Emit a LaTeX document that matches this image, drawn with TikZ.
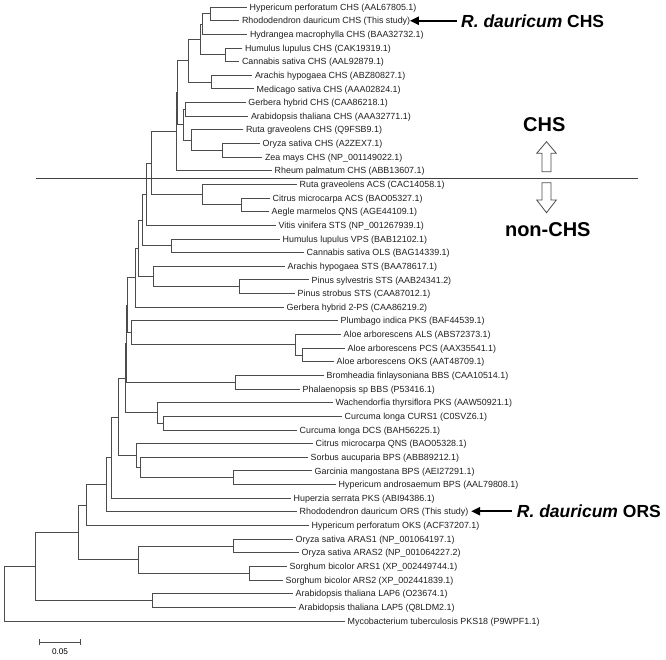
\documentclass[tikz,border=0pt]{standalone}
\usepackage{fontspec}
\setmainfont{Liberation Sans}
\usetikzlibrary{arrows.meta}
\begin{document}
\begin{tikzpicture}[x=1pt,y=-1pt,
  br/.style={draw=black!70, line width=0.85pt},
  leaf/.style={anchor=west, inner xsep=2.5pt, inner ysep=0pt, text height=6.3pt, text depth=0pt,
    font=\fontsize{8.9}{10}\selectfont, text=black!88},
  biglab/.style={anchor=base west, inner sep=0pt, font=\bfseries\fontsize{17.5}{20}\selectfont},
  cladelab/.style={inner sep=0pt, font=\bfseries\fontsize{20}{24}\selectfont},
  bigarr/.style={draw=black, line width=2.2pt, -{Triangle[length=9pt,width=8pt]}},
  hollow/.style={draw=black!70, line width=0.8pt, fill=white, line join=miter},
  divider/.style={draw=black!75, line width=0.9pt}]
\useasboundingbox (0,0) rectangle (666,659);

% leaves
\node[leaf] (l1)  at (247,7.0)    {Hypericum perforatum CHS (AAL67805.1)};
\node[leaf] (l2)  at (239.3,20.64) {Rhododendron dauricum CHS (This study)};
\node[leaf] (l3)  at (247.3,34.29) {Hydrangea macrophylla CHS (BAA32732.1)};
\node[leaf] (l4)  at (242.3,47.93) {Humulus lupulus CHS (CAK19319.1)};
\node[leaf] (l5)  at (239.3,61.58) {Cannabis sativa CHS (AAL92879.1)};
\node[leaf] (l6)  at (252.3,75.22) {Arachis hypogaea CHS (ABZ80827.1)};
\node[leaf] (l7)  at (254,88.86)   {Medicago sativa CHS (AAA02824.1)};
\node[leaf] (l8)  at (245.7,102.51) {Gerbera hybrid CHS (CAA86218.1)};
\node[leaf] (l9)  at (248.3,116.15) {Arabidopsis thaliana CHS (AAA32771.1)};
\node[leaf] (l10) at (243.3,129.80) {Ruta graveolens CHS (Q9FSB9.1)};
\node[leaf] (l11) at (260,143.44)   {Oryza sativa CHS (A2ZEX7.1)};
\node[leaf] (l12) at (262.3,157.08) {Zea mays CHS (NP\_001149022.1)};
\node[leaf] (l13) at (272,170.73)   {Rheum palmatum CHS (ABB13607.1)};
\node[leaf] (l14) at (297,184.37)   {Ruta graveolens ACS (CAC14058.1)};
\node[leaf] (l15) at (270,198.02)   {Citrus microcarpa ACS (BAO05327.1)};
\node[leaf] (l16) at (269,211.66)   {Aegle marmelos QNS (AGE44109.1)};
\node[leaf] (l17) at (276,225.30)   {Vitis vinifera STS (NP\_001267939.1)};
\node[leaf] (l18) at (280,238.95)   {Humulus lupulus VPS (BAB12102.1)};
\node[leaf] (l19) at (304,252.59)   {Cannabis sativa OLS (BAG14339.1)};
\node[leaf] (l20) at (285,266.24)   {Arachis hypogaea STS (BAA78617.1)};
\node[leaf] (l21) at (309,279.88)   {Pinus sylvestris STS (AAB24341.2)};
\node[leaf] (l22) at (295,293.52)   {Pinus strobus STS (CAA87012.1)};
\node[leaf] (l23) at (284,307.17)   {Gerbera hybrid 2-PS (CAA86219.2)};
\node[leaf] (l24) at (338,320.81)   {Plumbago indica PKS (BAF44539.1)};
\node[leaf] (l25) at (341,334.46)   {Aloe arborescens ALS (ABS72373.1)};
\node[leaf] (l26) at (345,348.10)   {Aloe arborescens PCS (AAX35541.1)};
\node[leaf] (l27) at (334,361.74)   {Aloe arborescens OKS (AAT48709.1)};
\node[leaf] (l28) at (324,375.39)   {Bromheadia finlaysoniana BBS (CAA10514.1)};
\node[leaf] (l29) at (300,389.03)   {Phalaenopsis sp BBS (P53416.1)};
\node[leaf] (l30) at (333,402.68)   {Wachendorfia thyrsiflora PKS (AAW50921.1)};
\node[leaf] (l31) at (342,416.32)   {Curcuma longa CURS1 (C0SVZ6.1)};
\node[leaf] (l32) at (297,429.96)   {Curcuma longa DCS (BAH56225.1)};
\node[leaf] (l33) at (313,443.61)   {Citrus microcarpa QNS (BAO05328.1)};
\node[leaf] (l34) at (308,457.25)   {Sorbus aucuparia BPS (ABB89212.1)};
\node[leaf] (l35) at (312,470.90)   {Garcinia mangostana BPS (AEI27291.1)};
\node[leaf] (l36) at (336,484.54)   {Hypericum androsaemum BPS (AAL79808.1)};
\node[leaf] (l37) at (291,498.18)   {Huperzia serrata PKS (ABI94386.1)};
\node[leaf] (l38) at (297,511.83)   {Rhododendron dauricum ORS (This study)};
\node[leaf] (l39) at (309,525.47)   {Hypericum perforatum OKS (ACF37207.1)};
\node[leaf] (l40) at (293,539.12)   {Oryza sativa ARAS1 (NP\_001064197.1)};
\node[leaf] (l41) at (299,552.76)   {Oryza sativa ARAS2 (NP\_001064227.2)};
\node[leaf] (l42) at (287,566.40)   {Sorghum bicolor ARS1 (XP\_002449744.1)};
\node[leaf] (l43) at (283,580.05)   {Sorghum bicolor ARS2 (XP\_002441839.1)};
\node[leaf] (l44) at (293,593.69)   {Arabidopsis thaliana LAP6 (O23674.1)};
\node[leaf] (l45) at (296,607.34)   {Arabidopsis thaliana LAP5 (Q8LDM2.1)};
\node[leaf] (l46) at (345,620.98)   {Mycobacterium tuberculosis PKS18 (P9WPF1.1)};

% internal nodes
\coordinate (nA)  at (210.7,13.82);
\coordinate (nB)  at (202.7,24.06);
\coordinate (nC)  at (225.7,54.76);
\coordinate (nD)  at (200,39.41);
\coordinate (nE)  at (211,82.04);
\coordinate (nF)  at (188.3,60.73);
\coordinate (nG)  at (185,109.33);
\coordinate (nH)  at (222.7,150.26);
\coordinate (nI)  at (191.7,140.03);
\coordinate (nJ)  at (183.3,124.68);
\coordinate (nK)  at (177.5,92.71);
\coordinate (nL)  at (176.3,131.72);
\coordinate (nN)  at (241,204.84);
\coordinate (nO)  at (202.3,194.6);
\coordinate (nM)  at (151.7,163.16);
\coordinate (nP)  at (146.7,194.23);
\coordinate (nQ)  at (171,245.77);
\coordinate (nR)  at (142.7,220.0);
\coordinate (nS)  at (239,286.7);
\coordinate (nT)  at (153.3,276.47);
\coordinate (nU)  at (138.3,248.24);
\coordinate (nV)  at (135,277.7);
\coordinate (nAi) at (302.3,354.92);
\coordinate (nAl) at (295,344.69);
\coordinate (nW)  at (131.7,332.75);
\coordinate (nX)  at (127.7,305.2);
\coordinate (nY)  at (235,382.21);
\coordinate (nZ)  at (126.3,343.7);
\coordinate (nAE) at (163.3,423.14);
\coordinate (nAF) at (157.3,412.91);
\coordinate (nAG) at (125,378.3);
\coordinate (nAA) at (233.3,477.72);
\coordinate (nAB) at (140.7,467.49);
\coordinate (nAC) at (136.7,455.55);
\coordinate (nAD) at (118.3,416.93);
\coordinate (nAH) at (111.7,457.56);
\coordinate (nAI) at (106.7,484.7);
\coordinate (nAJ) at (86.7,505.08);
\coordinate (nOz) at (233.3,545.94);
\coordinate (nSb) at (249.3,573.23);
\coordinate (nAL) at (138.3,559.58);
\coordinate (nAK) at (78.3,532.33);
\coordinate (nLP) at (152.7,600.51);
\coordinate (nAM) at (35.5,566.42);
\coordinate (root) at (4.3,593.7);

% branches
\foreach \p/\c in {nA/l1.west, nA/l2.west, nB/nA, nB/l3.west, nC/l4.west, nC/l5.west,
  nD/nB, nD/nC, nE/l6.west, nE/l7.west, nF/nD, nF/nE, nG/l8.west, nG/l9.west,
  nH/l11.west, nH/l12.west, nI/l10.west, nI/nH, nJ/nG, nJ/nI, nK/nF, nK/nJ,
  nL/nK, nL/l13.west, nN/l15.west, nN/l16.west, nO/l14.west, nO/nN, nM/nL, nM/nO,
  nP/nM, nP/l17.west, nQ/l18.west, nQ/l19.west, nR/nP, nR/nQ,
  nS/l21.west, nS/l22.west, nT/l20.west, nT/nS, nU/nR, nU/nT, nV/nU, nV/l23.west,
  nAi/l26.west, nAi/l27.west, nAl/l25.west, nAl/nAi, nW/l24.west, nW/nAl,
  nX/nV, nX/nW, nY/l28.west, nY/l29.west, nZ/nX, nZ/nY,
  nAE/l31.west, nAE/l32.west, nAF/l30.west, nAF/nAE, nAG/nZ, nAG/nAF,
  nAA/l35.west, nAA/l36.west, nAB/l34.west, nAB/nAA, nAC/l33.west, nAC/nAB,
  nAD/nAG, nAD/nAC, nAH/nAD, nAH/l37.west, nAI/nAH, nAI/l38.west,
  nAJ/nAI, nAJ/l39.west, nOz/l40.west, nOz/l41.west, nSb/l42.west, nSb/l43.west,
  nAL/nOz, nAL/nSb, nAK/nAJ, nAK/nAL, nLP/l44.west, nLP/l45.west,
  nAM/nAK, nAM/nLP, root/nAM, root/l46.west}
  \draw[br] (\p) |- (\c);

% divider between CHS and non-CHS
\coordinate (dvL) at (36,178.3);
\coordinate (dvR) at (638.3,178.3);
\draw[divider] (dvL) -- (dvR);

% clade labels and hollow arrows
\node[cladelab] (chs) at (544.3,125) {CHS};
\node[cladelab] (nonchs) at (547.8,230) {non-CHS};
\draw[hollow] (542,171.7) -- (542,153.3) -- (536.7,153.3) -- (546.5,141.7) -- (556.3,153.3)
  -- (551,153.3) -- (551,171.7) -- cycle;
\draw[hollow] (542,182.7) -- (542,200) -- (536.7,200) -- (546.5,212.7) -- (556.3,200)
  -- (551,200) -- (551,182.7) -- cycle;

% highlighted sequences
\node[biglab] (rchs) at (461,27) {\textit{R. dauricum} CHS};
\node[biglab] (rors) at (516.7,517.5) {\textit{R. dauricum} ORS};
\draw[bigarr, shorten <=4.5pt, shorten >=-3pt] (rchs.west) -- (rchs.west -| l2.east);
\draw[bigarr, shorten <=4.5pt, shorten >=0pt] (rors.west) -- (rors.west -| l38.east);

% scale bar
\coordinate (sbL) at (39,642.3);
\coordinate (sbR) at (81,642.3);
\draw[br, {Bar[width=6pt]}-{Bar[width=6pt]}] (sbL) -- (sbR);
\node[font=\fontsize{8.2}{10}\selectfont, inner sep=0pt] (sbt) at (60,651.5) {0.05};
\end{tikzpicture}
\end{document}
